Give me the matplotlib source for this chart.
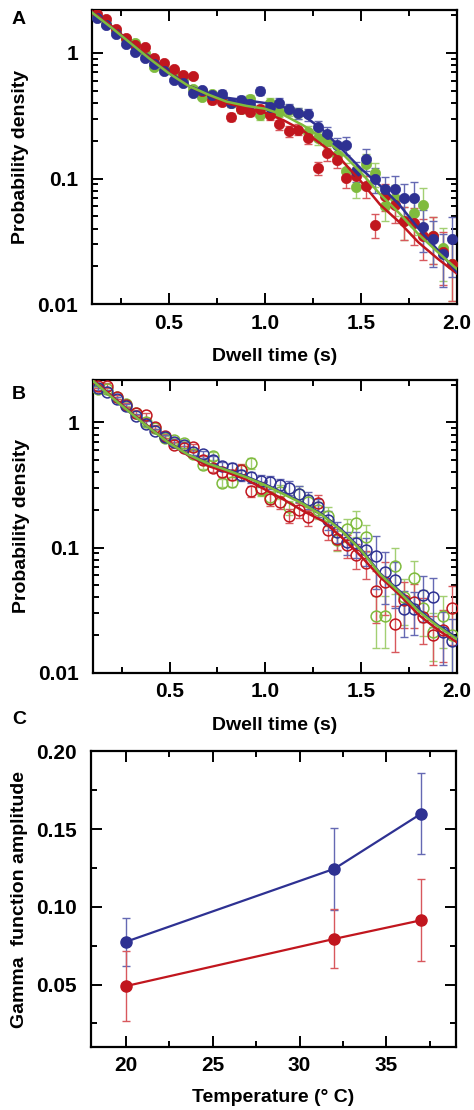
#!/usr/bin/env python3
"""Dwell-time distributions (A, B) and gamma amplitude vs temperature (C)."""

import matplotlib

matplotlib.use("Agg")
import matplotlib.pyplot as plt
from matplotlib.ticker import FixedLocator, FixedFormatter

# --------------------------------------------------------------------------- #
# Data
# --------------------------------------------------------------------------- #
BIN_T = [
  0.125, 0.175, 0.225, 0.275, 0.325, 0.375, 0.425, 0.475, 0.525, 0.575,
  0.625, 0.675, 0.725, 0.775, 0.825, 0.875, 0.925, 0.975, 1.025, 1.075,
  1.125, 1.175, 1.225, 1.275, 1.325, 1.375, 1.425, 1.475, 1.525, 1.575,
  1.625, 1.675, 1.725, 1.775, 1.825, 1.875, 1.925, 1.975,
]

A_BLUE = [
  1.90, 1.67, 1.41, 1.19, 1.02, 0.92, 0.82, 0.72, 0.61, 0.58,
  0.48, 0.51, 0.46, 0.475, 0.40, 0.425, 0.39, 0.50, 0.37, 0.40,
  0.36, 0.33, 0.325, 0.257, 0.226, 0.184, 0.184, 0.115, 0.144, 0.099,
  0.083, 0.082, 0.070, 0.070, 0.041, 0.033, 0.025, 0.033,
]
A_RED = [
  2.05, 1.88, 1.55, 1.32, 1.15, 1.12, 0.92, 0.83, 0.74, 0.67,
  0.65, 0.50, 0.42, 0.41, 0.31, 0.36, 0.34, 0.36, 0.32, 0.27,
  0.24, 0.245, 0.21, 0.122, 0.16, 0.14, 0.101, 0.104, 0.087, 0.043,
  0.073, 0.062, 0.046, 0.044, 0.035, 0.035, 0.026, 0.021,
]
A_GREEN = [
  1.95, 1.70, 1.50, 1.30, 1.21, 1.00, 0.78, 0.76, 0.72, 0.62,
  0.52, 0.45, 0.47, 0.44, 0.40, 0.355, 0.43, 0.32, 0.40, 0.34,
  0.35, 0.33, 0.235, 0.21, 0.20, 0.155, 0.114, 0.086, 0.13, 0.11,
  0.061, 0.070, 0.046, 0.053, 0.062, 0.035, 0.028, 0.021,
]
REL_ERR_A = [
  0.04, 0.04, 0.04, 0.04, 0.04, 0.04, 0.04, 0.04, 0.04, 0.04,
  0.04, 0.04, 0.06, 0.06, 0.07, 0.07, 0.08, 0.08, 0.09, 0.09,
  0.10, 0.10, 0.11, 0.12, 0.13, 0.14, 0.16, 0.18, 0.20, 0.22,
  0.25, 0.28, 0.30, 0.33, 0.36, 0.40, 0.45, 0.50,
]

B_BLUE = [
  1.89, 1.75, 1.55, 1.35, 1.13, 0.98, 0.86, 0.76, 0.70, 0.66,
  0.58, 0.555, 0.50, 0.45, 0.435, 0.38, 0.365, 0.34, 0.335, 0.315,
  0.30, 0.27, 0.24, 0.21, 0.166, 0.134, 0.111, 0.108, 0.095, 0.085,
  0.064, 0.055, 0.032, 0.032, 0.042, 0.040, 0.021, 0.018,
]
B_RED = [
  1.95, 1.97, 1.60, 1.38, 1.20, 1.14, 0.92, 0.78, 0.66, 0.62,
  0.636, 0.50, 0.435, 0.40, 0.38, 0.42, 0.282, 0.30, 0.246, 0.23,
  0.18, 0.20, 0.174, 0.228, 0.138, 0.118, 0.105, 0.087, 0.075, 0.045,
  0.053, 0.0245, 0.038, 0.037, 0.028, 0.020, 0.022, 0.033,
]
B_GREEN = [
  1.85, 1.85, 1.60, 1.40, 1.18, 1.00, 0.90, 0.75, 0.72, 0.68,
  0.56, 0.455, 0.54, 0.33, 0.335, 0.415, 0.47, 0.29, 0.255, 0.28,
  0.21, 0.27, 0.23, 0.20, 0.18, 0.115, 0.14, 0.158, 0.122, 0.0285,
  0.0285, 0.071, 0.040, 0.057, 0.033, 0.0213, 0.0285, 0.020,
]
REL_ERR_B = [
  0.04, 0.04, 0.04, 0.04, 0.04, 0.04, 0.04, 0.04, 0.05, 0.05,
  0.06, 0.07, 0.08, 0.08, 0.09, 0.10, 0.10, 0.11, 0.12, 0.12,
  0.13, 0.14, 0.15, 0.16, 0.17, 0.19, 0.21, 0.23, 0.25, 0.45,
  0.45, 0.40, 0.40, 0.38, 0.40, 0.42, 0.45, 0.50,
]

# Fitted curves, sampled every 0.1 s
FIT_T = [
  0.1, 0.2, 0.3, 0.4, 0.5, 0.6, 0.7, 0.8, 0.9, 1.0,
  1.1, 1.2, 1.3, 1.4, 1.5, 1.6, 1.7, 1.8, 1.9, 2.0,
]
A_FIT_BLUE = [2.1, 1.6, 1.2, 0.9, 0.69, 0.55, 0.48, 0.44, 0.42, 0.40,
              0.37, 0.32, 0.245, 0.172, 0.12, 0.088, 0.062, 0.040, 0.027, 0.018]
A_FIT_GREEN = [2.1, 1.6, 1.2, 0.9, 0.69, 0.55, 0.47, 0.41, 0.38, 0.36,
               0.32, 0.265, 0.21, 0.16, 0.112, 0.075, 0.053, 0.036, 0.026, 0.019]
A_FIT_RED = [2.15, 1.65, 1.22, 0.92, 0.70, 0.55, 0.47, 0.40, 0.365, 0.335,
             0.29, 0.24, 0.185, 0.14, 0.095, 0.062, 0.045, 0.031, 0.023, 0.0175]

B_FIT_BLUE = [2.15, 1.58, 1.18, 0.89, 0.68, 0.55, 0.47, 0.42, 0.37, 0.32,
              0.27, 0.225, 0.183, 0.138, 0.097, 0.062, 0.045, 0.032, 0.024, 0.019]
B_FIT_GREEN = [2.15, 1.58, 1.18, 0.89, 0.68, 0.55, 0.47, 0.415, 0.365, 0.315,
               0.265, 0.222, 0.18, 0.135, 0.095, 0.061, 0.044, 0.031, 0.0235, 0.0185]
B_FIT_RED = [2.2, 1.62, 1.2, 0.9, 0.69, 0.54, 0.45, 0.40, 0.35, 0.29,
             0.24, 0.195, 0.163, 0.12, 0.085, 0.058, 0.042, 0.029, 0.022, 0.0175]

# Panel C
TEMPS = [20, 32, 37]
C_BLUE = [0.0775, 0.1245, 0.160]
C_BLUE_ERR = [0.0155, 0.0265, 0.026]
C_RED = [0.049, 0.0794, 0.0914]
C_RED_ERR = [0.0225, 0.019, 0.0265]

# --------------------------------------------------------------------------- #
# Style
# --------------------------------------------------------------------------- #
BLUE = "#2e3192"
RED = "#c1161e"
GREEN = "#7fbb3d"
BLUE_ERR = "#6569b3"
RED_ERR = "#d8585d"
GREEN_ERR = "#a3cf72"

plt.rcParams["font.family"] = ["Liberation Sans", "DejaVu Sans"]
plt.rcParams["font.weight"] = "bold"
plt.rcParams["axes.labelweight"] = "bold"

TICK_SIZE = 15
LABEL_SIZE = 14


def _style_axes(ax):
  """Boxed axes with inward ticks on all four sides."""
  for sp in ax.spines.values():
    sp.set_linewidth(1.6)
  ax.tick_params(which="both", direction="in", top=True, right=True,
                 width=1.4, labelsize=TICK_SIZE)
  ax.tick_params(which="major", length=8)
  ax.tick_params(which="minor", length=4.5)
  ax.tick_params(axis="x", which="major", pad=7)
  ax.tick_params(axis="y", which="major", pad=10)


def _dwell_panel(ax, series, fits, rel_err, open_markers):
  """Log-scale dwell time histogram with fitted curves on top."""
  for vals, col, ecol in series:
    yerr = [v * r for v, r in zip(vals, rel_err)]
    ax.errorbar(BIN_T, vals, yerr=yerr, fmt="none", ecolor=ecol,
                elinewidth=1.0, capsize=2.6, capthick=1.0, zorder=2)
    if open_markers:
      ax.plot(BIN_T, vals, "o", ms=7.8, mfc="none", mec=col, mew=1.1, zorder=3)
    else:
      ax.plot(BIN_T, vals, "o", ms=7.4, mfc=col, mec=col, mew=0.5, zorder=3)
  for vals, col in fits:
    ax.plot(FIT_T, vals, "-", color=col, lw=1.8, zorder=4)

  ax.set_yscale("log")
  ax.set_xlim(0.1, 2.0)
  ax.set_ylim(0.01, 2.2)
  ax.xaxis.set_major_locator(FixedLocator([0.5, 1.0, 1.5, 2.0]))
  ax.xaxis.set_major_formatter(FixedFormatter(["0.5", "1.0", "1.5", "2.0"]))
  ax.xaxis.set_minor_locator(FixedLocator([0.25, 0.75, 1.25, 1.75]))
  ax.yaxis.set_major_locator(FixedLocator([0.01, 0.1, 1.0]))
  ax.yaxis.set_major_formatter(FixedFormatter(["0.01", "0.1", "1"]))
  _style_axes(ax)
  ax.set_xlabel("Dwell time (s)", fontsize=LABEL_SIZE, labelpad=11)
  ax.set_ylabel("Probability density", fontsize=LABEL_SIZE, labelpad=6)


def main():
  fig = plt.figure(figsize=(4.74, 11.1), dpi=100)
  ax_a = fig.add_axes([0.194, 0.726, 0.770, 0.265])
  ax_b = fig.add_axes([0.196, 0.394, 0.768, 0.264])
  ax_c = fig.add_axes([0.192, 0.057, 0.770, 0.266])

  _dwell_panel(
    ax_a,
    [(A_GREEN, GREEN, GREEN_ERR), (A_RED, RED, RED_ERR), (A_BLUE, BLUE, BLUE_ERR)],
    [(A_FIT_RED, RED), (A_FIT_BLUE, BLUE), (A_FIT_GREEN, GREEN)],
    REL_ERR_A, open_markers=False,
  )
  _dwell_panel(
    ax_b,
    [(B_GREEN, GREEN, GREEN_ERR), (B_RED, RED, RED_ERR), (B_BLUE, BLUE, BLUE_ERR)],
    [(B_FIT_RED, RED), (B_FIT_BLUE, BLUE), (B_FIT_GREEN, GREEN)],
    REL_ERR_B, open_markers=True,
  )

  # Panel C
  for vals, err, col, ecol in [(C_BLUE, C_BLUE_ERR, BLUE, BLUE_ERR),
                               (C_RED, C_RED_ERR, RED, RED_ERR)]:
    ax_c.errorbar(TEMPS, vals, yerr=err, fmt="none", ecolor=ecol,
                  elinewidth=1.0, capsize=2.6, capthick=1.0, zorder=2)
    ax_c.plot(TEMPS, vals, "-o", color=col, lw=1.6, ms=8, zorder=3)
  ax_c.set_xlim(18, 39)
  ax_c.set_ylim(0.01, 0.20)
  ax_c.xaxis.set_major_locator(FixedLocator([20, 25, 30, 35]))
  ax_c.xaxis.set_minor_locator(FixedLocator([22.5, 27.5, 32.5, 37.5]))
  ax_c.yaxis.set_major_locator(FixedLocator([0.05, 0.10, 0.15, 0.20]))
  ax_c.yaxis.set_major_formatter(FixedFormatter(["0.05", "0.10", "0.15", "0.20"]))
  ax_c.yaxis.set_minor_locator(FixedLocator([0.025, 0.075, 0.125, 0.175]))
  _style_axes(ax_c)
  ax_c.set_xlabel("Temperature (\u00b0 C)", fontsize=LABEL_SIZE, labelpad=10)
  ax_c.set_ylabel("Gamma  function amplitude", fontsize=LABEL_SIZE, labelpad=6)

  for label, y in [("A", 0.982), ("B", 0.645), ("C", 0.352)]:
    fig.text(0.025, y, label, fontsize=14, fontweight="bold", ha="left", va="center")

  fig.savefig("out.png", dpi=100)


if __name__ == "__main__":
  main()
